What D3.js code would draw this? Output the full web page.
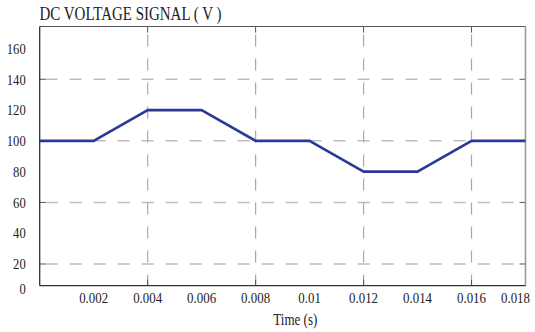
<!DOCTYPE html>
<html>
<head>
<meta charset="utf-8">
<script src="https://cdn.jsdelivr.net/npm/d3@7"></script>
<style>
  body { margin: 0; background: #fff; }
  text { font-family: "Liberation Serif", "Times New Roman", serif; fill: #222; }
</style>
</head>
<body>
<script>
const w = 535;
const h = 332;

// data
const times = [0, 0.002, 0.004, 0.006, 0.008, 0.01, 0.012, 0.014, 0.016, 0.018];
const volts = [100, 100, 120, 120, 100, 100, 80, 80, 100, 100];
const xTicks = [0.002, 0.004, 0.006, 0.008, 0.01, 0.012, 0.014, 0.016, 0.018];
const xLabels = ["0.002", "0.004", "0.006", "0.008", "0.01", "0.012", "0.014", "0.016", "0.018"];
const xGrid = [0.004, 0.008, 0.012, 0.016];
const yTicks = [0, 20, 40, 60, 80, 100, 120, 140, 160];
const yGrid = [20, 60, 100, 140];

const m = { t: 26.5, r: 9.5, b: 46.3, l: 39.7 };
const gw = w - m.l - m.r;
const gh = h - m.t - m.b;

const svg = d3.select("body").append("svg").attr("width", w).attr("height", h);

const x = d3.scaleLinear().domain([0, 0.018]).range([0, gw]);
const y = d3.scaleLinear().domain([5.9, 174.3]).range([gh, 0]);

const g = svg.append("g").attr("transform", `translate(${m.l}, ${m.t})`);

// squeeze serif text a bit, like the original
const squeeze = (sel, k) =>
  sel.each(function () {
    const len = this.getComputedTextLength();
    d3.select(this).attr("textLength", len * k).attr("lengthAdjust", "spacingAndGlyphs");
  });

// grid
g.selectAll(".hgrid")
  .data(yGrid)
  .enter()
  .append("line")
  .attr("x1", 0)
  .attr("x2", gw)
  .attr("y1", (d) => y(d))
  .attr("y2", (d) => y(d))
  .attr("stroke", "#bdbdbd")
  .attr("stroke-width", 1.5)
  .attr("stroke-dasharray", "12,12")
  .attr("stroke-dashoffset", -6);

g.selectAll(".vgrid")
  .data(xGrid)
  .enter()
  .append("line")
  .attr("x1", (d) => x(d))
  .attr("x2", (d) => x(d))
  .attr("y1", 0)
  .attr("y2", gh)
  .attr("stroke", "#a8a8a8")
  .attr("stroke-width", 1.2)
  .attr("stroke-dasharray", "12,12")
  .attr("stroke-dashoffset", -8);

// small ticks inside the frame
const tk = 6;
yGrid.forEach((d) => {
  g.append("line").attr("x1", 0).attr("x2", tk).attr("y1", y(d)).attr("y2", y(d)).attr("stroke", "#555");
  g.append("line").attr("x1", gw - tk).attr("x2", gw).attr("y1", y(d)).attr("y2", y(d)).attr("stroke", "#555");
});
xGrid.forEach((d) => {
  g.append("line").attr("x1", x(d)).attr("x2", x(d)).attr("y1", gh).attr("y2", gh - tk).attr("stroke", "#555");
  g.append("line").attr("x1", x(d)).attr("x2", x(d)).attr("y1", 0).attr("y2", tk).attr("stroke", "#555");
});

// frame
g.append("line").attr("x1", 0).attr("x2", gw).attr("y1", 0).attr("y2", 0).attr("stroke", "#555").attr("stroke-width", 1.2);
g.append("line").attr("x1", gw).attr("x2", gw).attr("y1", 0).attr("y2", gh).attr("stroke", "#999").attr("stroke-width", 1.6);
g.append("line").attr("x1", 0).attr("x2", 0).attr("y1", 0).attr("y2", gh).attr("stroke", "#333").attr("stroke-width", 1.3);
g.append("line").attr("x1", 0).attr("x2", gw).attr("y1", gh).attr("y2", gh).attr("stroke", "#333").attr("stroke-width", 1.3);

// signal
const line = d3
  .line()
  .x((d, i) => x(times[i]))
  .y((d) => y(d));

g.append("path")
  .datum(volts)
  .attr("d", line)
  .attr("fill", "none")
  .attr("stroke", "#2a3897")
  .attr("stroke-width", 2.6)
  .attr("stroke-linejoin", "round");

// y labels (0 sits at the bottom edge)
g.selectAll(".ylab")
  .data(yTicks)
  .enter()
  .append("text")
  .attr("x", -14)
  .attr("y", (d) => (d === 0 ? gh + 2.6 : y(d)))
  .attr("dy", "0.35em")
  .attr("text-anchor", "end")
  .attr("font-size", 15)
  .text((d) => d)
  .call(squeeze, 0.84);

// x labels, the last one kept inside the page
g.selectAll(".xlab")
  .data(xTicks)
  .enter()
  .append("text")
  .attr("x", (d) => Math.min(x(d), gw - 10))
  .attr("y", gh + 17.6)
  .attr("text-anchor", "middle")
  .attr("font-size", 15)
  .text((d, i) => xLabels[i])
  .call(squeeze, 0.86);

// titles
svg
  .append("text")
  .attr("x", 39.5)
  .attr("y", 19.5)
  .attr("font-size", 19)
  .text("DC VOLTAGE SIGNAL ( V )")
  .attr("textLength", 182)
  .attr("lengthAdjust", "spacingAndGlyphs");

svg
  .append("text")
  .attr("x", 273.3)
  .attr("y", 325)
  .attr("font-size", 17)
  .text("Time (s)")
  .attr("textLength", 44)
  .attr("lengthAdjust", "spacingAndGlyphs");
</script>
</body>
</html>
